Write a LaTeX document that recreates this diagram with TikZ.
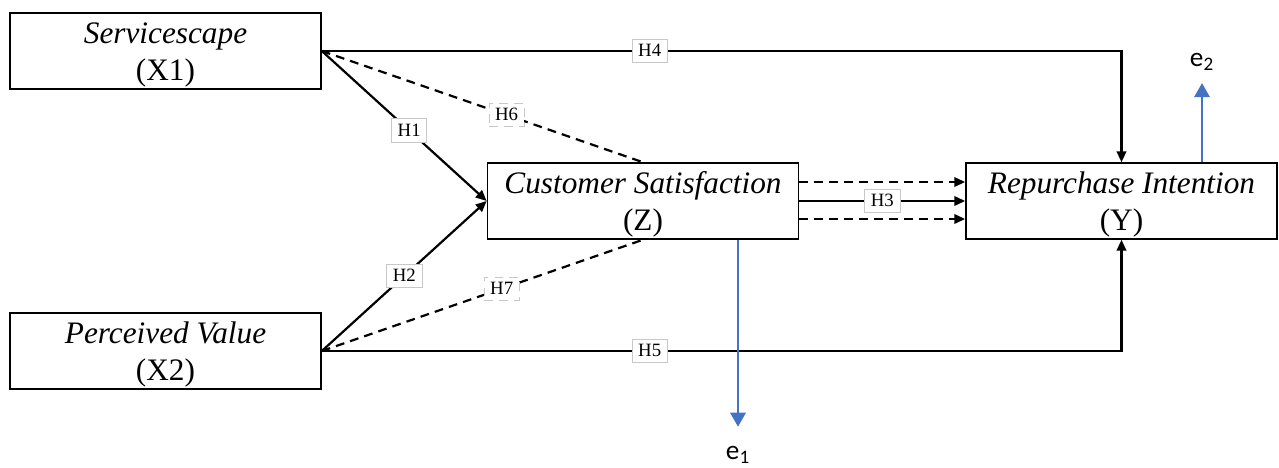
\documentclass[tikz,border=0pt]{standalone}
\usepackage{fontspec}
\setmainfont{Liberation Serif}
\newfontfamily\errfont{Carlito}
\usetikzlibrary{arrows.meta,positioning}
\definecolor{errblue}{HTML}{4472C4}
\definecolor{hypgray}{HTML}{C8C8C8}

\begin{document}
\begin{tikzpicture}[x=0.02cm, y=-0.02cm,
	var/.style={draw, line width=1pt, minimum width=6.22cm, inner sep=0pt, text height=38.6pt, text depth=4.5pt, align=center, font=\fontsize{17.8}{21.5}\selectfont},
	path/.style={line width=1.25pt, -{Triangle[length=6.2pt,width=5.4pt]}},
	dashpath/.style={line width=1.25pt, dash pattern=on 5pt off 3.5pt},
	hyp/.style={draw=hypgray, line width=0.4pt, fill=white, font=\fontsize{10.7}{12}\selectfont, inner xsep=3.5pt, inner ysep=2.6pt, text height=7.3pt, text depth=0.8pt},
	errlbl/.style={font=\errfont\fontsize{15.5}{18}\selectfont, inner sep=0pt, text height=7.5pt, text depth=2pt},
	errpath/.style={draw=errblue, line width=0.6pt, -{Triangle[length=8pt,width=9pt]}, errblue}]
	\useasboundingbox (0,0) rectangle (1279,467);
	% variables
	\node[var] (X1) at (165.5,51) {\textit{Servicescape}\\(X1)};
	\node[var] (X2) at (165.5,351) {\textit{Perceived Value}\\(X2)};
	\node[var] (Z) at (643,201) {\textit{Customer Satisfaction}\\(Z)};
	\node[var] (Y) at (1121.5,201) {\textit{Repurchase Intention}\\(Y)};
	% error terms
	\node[errlbl] (e1) at (738,455) {e\textsubscript{1}};
	\node[errlbl] (e2) at (1202,62) {e\textsubscript{2}};
	% direct paths
	\draw[path] (X1.east) -| node[hyp, pos=0.205] {H4} (Y.north);
	\draw[path] (X2.east) -| node[hyp, pos=0.205] {H5} (Y.south);
	\draw[path] (X1.east) -- node[hyp, pos=0.53] {H1} (Z.west);
	\draw[path] (X2.east) -- node[hyp, pos=0.5] {H2} (Z.west);
	% mediated paths
	\draw[dashpath] (X1.east) -- node[hyp, pos=0.575] {H6} (Z.north);
	\draw[dashpath] (X2.east) -- node[hyp, pos=0.56] {H7} (Z.south);
	\draw[path, dashpath] ([yshift=0.38cm]Z.east) -- ([yshift=0.38cm]Y.west);
	\draw[path] (Z.east) -- node[hyp, pos=0.5] {H3} (Y.west);
	\draw[path, dashpath] ([yshift=-0.36cm]Z.east) -- ([yshift=-0.36cm]Y.west);
	% residuals
	\draw[errpath, shorten >=11.2pt] (Z.south -| e1) -- (e1.north);
	\draw[errpath, shorten >=7.1pt] (Y.north -| e2) -- (e2.south);
\end{tikzpicture}
\end{document}
